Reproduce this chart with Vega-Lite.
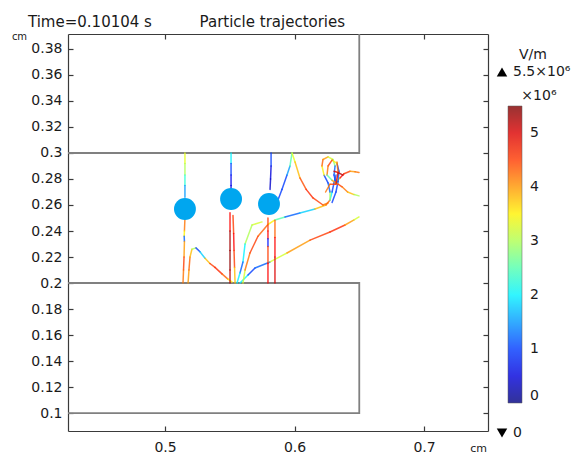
{
  "$schema": "https://vega.github.io/schema/vega-lite/v6.json",
  "width": 420,
  "height": 397,
  "autosize": "none",
  "padding": {"left": 68, "top": 34, "right": 96, "bottom": 23},
  "config": {
    "font": "DejaVu Sans",
    "view": {"stroke": null},
    "axis": {"grid": false, "domainColor": "#3a3a3a", "domainWidth": 1.2, "tickColor": "#3a3a3a", "tickWidth": 1.2, "labelColor": "#1a1a1a", "labelFontSize": 14, "titleColor": "#1a1a1a", "titleFontWeight": "normal"},
    "legend": {"labelColor": "#1a1a1a", "titleColor": "#1a1a1a", "titleFontWeight": "normal"}
  },
  "title": {
    "text": "Time=0.10104 s\u00a0\u00a0\u00a0\u00a0\u00a0\u00a0\u00a0\u00a0\u00a0\u00a0Particle trajectories",
    "anchor": "start",
    "frame": "group",
    "fontSize": 15,
    "fontWeight": "normal",
    "color": "#1a1a1a",
    "baseline": "alphabetic",
    "dx": -40,
    "dy": 20,
    "offset": 9
  },
  "layer": [
    {
      "data": {"values": [
        {"part": "upper", "ord": 0, "x": 0.40, "y": 0.30},
        {"part": "upper", "ord": 1, "x": 0.65, "y": 0.30},
        {"part": "upper", "ord": 2, "x": 0.65, "y": 0.40},
        {"part": "lower", "ord": 0, "x": 0.40, "y": 0.20},
        {"part": "lower", "ord": 1, "x": 0.65, "y": 0.20},
        {"part": "lower", "ord": 2, "x": 0.65, "y": 0.10},
        {"part": "lower", "ord": 3, "x": 0.40, "y": 0.10}
      ]},
      "mark": {"type": "line", "color": "#808080", "strokeWidth": 1.8, "clip": true},
      "encoding": {
        "x": {"field": "x", "type": "quantitative", "scale": {"domain": [0.4251, 0.7494], "nice": false, "zero": false},
              "axis": {"orient": "bottom", "values": [0.5, 0.6, 0.7], "format": "~g", "tickSize": -5, "labelPadding": 14, "title": "cm", "titleFontSize": 11, "titleX": 410, "titleY": 17, "titleAlign": "center", "titleBaseline": "middle"}},
        "y": {"field": "y", "type": "quantitative", "scale": {"domain": [0.0862, 0.3915], "nice": false, "zero": false},
              "axis": {"orient": "left", "values": [0.1, 0.12, 0.14, 0.16, 0.18, 0.2, 0.22, 0.24, 0.26, 0.28, 0.3, 0.32, 0.34, 0.36, 0.38], "format": "~g", "tickSize": -5, "labelPadding": 11, "title": "cm", "titleFontSize": 10, "titleAngle": 0, "titleX": -49, "titleY": 2, "titleAlign": "center", "titleBaseline": "middle"}},
        "detail": {"field": "part"},
        "order": {"field": "ord"}
      }
    },
    {
      "data": {"values": [
        {"traj": "t1", "i": 0, "x": 0.5154, "y": 0.300, "E": 3.3},
        {"traj": "t1", "i": 1, "x": 0.5154, "y": 0.292, "E": 3.0},
        {"traj": "t1", "i": 2, "x": 0.5154, "y": 0.283, "E": 2.3},
        {"traj": "t1", "i": 3, "x": 0.5154, "y": 0.275, "E": 1.5},
        {"traj": "t1", "i": 4, "x": 0.5154, "y": 0.266, "E": 1.0},
        {"traj": "t2", "i": 0, "x": 0.5154, "y": 0.250, "E": 4.2},
        {"traj": "t2", "i": 1, "x": 0.5150, "y": 0.240, "E": 3.5},
        {"traj": "t2", "i": 2, "x": 0.5148, "y": 0.236, "E": 1.2},
        {"traj": "t2", "i": 3, "x": 0.5150, "y": 0.232, "E": 4.0},
        {"traj": "t2", "i": 4, "x": 0.5147, "y": 0.220, "E": 4.5},
        {"traj": "t2", "i": 5, "x": 0.5143, "y": 0.210, "E": 4.2},
        {"traj": "t2", "i": 6, "x": 0.5139, "y": 0.200, "E": 3.6},
        {"traj": "t3", "i": 0, "x": 0.5178, "y": 0.200, "E": 4.0},
        {"traj": "t3", "i": 1, "x": 0.5185, "y": 0.210, "E": 4.3},
        {"traj": "t3", "i": 2, "x": 0.5193, "y": 0.220, "E": 3.8},
        {"traj": "t3", "i": 3, "x": 0.5208, "y": 0.226, "E": 3.0},
        {"traj": "t3", "i": 4, "x": 0.5239, "y": 0.227, "E": 1.0},
        {"traj": "t3", "i": 5, "x": 0.5270, "y": 0.224, "E": 1.8},
        {"traj": "t3", "i": 6, "x": 0.5309, "y": 0.219, "E": 3.8},
        {"traj": "t3", "i": 7, "x": 0.5347, "y": 0.215, "E": 4.5},
        {"traj": "t3", "i": 8, "x": 0.5386, "y": 0.212, "E": 4.6},
        {"traj": "t3", "i": 9, "x": 0.5440, "y": 0.207, "E": 4.3},
        {"traj": "t3", "i": 10, "x": 0.5486, "y": 0.203, "E": 3.5},
        {"traj": "t3", "i": 11, "x": 0.5517, "y": 0.2008, "E": 3.0},
        {"traj": "t4", "i": 0, "x": 0.5510, "y": 0.300, "E": 2.0},
        {"traj": "t4", "i": 1, "x": 0.5510, "y": 0.292, "E": 1.0},
        {"traj": "t4", "i": 2, "x": 0.5510, "y": 0.283, "E": 0.6},
        {"traj": "t4", "i": 3, "x": 0.5510, "y": 0.275, "E": 0.5},
        {"traj": "t4", "i": 4, "x": 0.5510, "y": 0.268, "E": 0.6},
        {"traj": "t5", "i": 0, "x": 0.5502, "y": 0.254, "E": 4.8},
        {"traj": "t5", "i": 1, "x": 0.5502, "y": 0.240, "E": 5.3},
        {"traj": "t5", "i": 2, "x": 0.5502, "y": 0.225, "E": 5.4},
        {"traj": "t5", "i": 3, "x": 0.5502, "y": 0.210, "E": 5.2},
        {"traj": "t5", "i": 4, "x": 0.5502, "y": 0.200, "E": 5.0},
        {"traj": "t5b", "i": 0, "x": 0.5525, "y": 0.252, "E": 4.5},
        {"traj": "t5b", "i": 1, "x": 0.5530, "y": 0.238, "E": 4.8},
        {"traj": "t5b", "i": 2, "x": 0.5533, "y": 0.225, "E": 4.5},
        {"traj": "t5b", "i": 3, "x": 0.5537, "y": 0.212, "E": 3.8},
        {"traj": "t5b", "i": 4, "x": 0.5541, "y": 0.200, "E": 3.2},
        {"traj": "t6", "i": 0, "x": 0.5749, "y": 0.2470, "E": 3.2},
        {"traj": "t6", "i": 1, "x": 0.5672, "y": 0.2446, "E": 3.0},
        {"traj": "t6", "i": 2, "x": 0.5618, "y": 0.2300, "E": 2.0},
        {"traj": "t6", "i": 3, "x": 0.5602, "y": 0.2162, "E": 1.2},
        {"traj": "t6", "i": 4, "x": 0.5579, "y": 0.2077, "E": 2.0},
        {"traj": "t6", "i": 5, "x": 0.5556, "y": 0.2000, "E": 3.0},
        {"traj": "t7", "i": 0, "x": 0.5579, "y": 0.2000, "E": 2.0},
        {"traj": "t7", "i": 1, "x": 0.5641, "y": 0.2062, "E": 1.0},
        {"traj": "t7", "i": 2, "x": 0.5695, "y": 0.2115, "E": 1.2},
        {"traj": "t7", "i": 3, "x": 0.5811, "y": 0.2162, "E": 3.2},
        {"traj": "t7", "i": 4, "x": 0.5942, "y": 0.2231, "E": 4.0},
        {"traj": "t7", "i": 5, "x": 0.6120, "y": 0.2330, "E": 4.5},
        {"traj": "t7", "i": 6, "x": 0.6274, "y": 0.2392, "E": 4.6},
        {"traj": "t7", "i": 7, "x": 0.6390, "y": 0.2446, "E": 4.0},
        {"traj": "t7", "i": 8, "x": 0.6460, "y": 0.2485, "E": 3.2},
        {"traj": "t7", "i": 9, "x": 0.6498, "y": 0.2508, "E": 2.0},
        {"traj": "t8", "i": 0, "x": 0.5602, "y": 0.2000, "E": 3.2},
        {"traj": "t8", "i": 1, "x": 0.5618, "y": 0.2100, "E": 4.2},
        {"traj": "t8", "i": 2, "x": 0.5656, "y": 0.2231, "E": 4.5},
        {"traj": "t8", "i": 3, "x": 0.5718, "y": 0.2360, "E": 4.3},
        {"traj": "t8", "i": 4, "x": 0.5795, "y": 0.2450, "E": 3.5},
        {"traj": "t8", "i": 5, "x": 0.5849, "y": 0.2485, "E": 2.5},
        {"traj": "t8", "i": 6, "x": 0.5927, "y": 0.2508, "E": 1.2},
        {"traj": "t8", "i": 7, "x": 0.6042, "y": 0.2538, "E": 1.8},
        {"traj": "t8", "i": 8, "x": 0.6158, "y": 0.2569, "E": 3.8},
        {"traj": "t8", "i": 9, "x": 0.6243, "y": 0.2600, "E": 4.3},
        {"traj": "t8", "i": 10, "x": 0.6274, "y": 0.2638, "E": 2.0},
        {"traj": "t8", "i": 11, "x": 0.6290, "y": 0.2700, "E": 1.0},
        {"traj": "t8", "i": 12, "x": 0.6305, "y": 0.2770, "E": 1.2},
        {"traj": "t8", "i": 13, "x": 0.6320, "y": 0.2830, "E": 1.5},
        {"traj": "t9", "i": 0, "x": 0.5819, "y": 0.300, "E": 1.0},
        {"traj": "t9", "i": 1, "x": 0.5819, "y": 0.290, "E": 0.5},
        {"traj": "t9", "i": 2, "x": 0.5815, "y": 0.280, "E": 0.4},
        {"traj": "t9", "i": 3, "x": 0.5811, "y": 0.272, "E": 0.8},
        {"traj": "t10", "i": 0, "x": 0.5795, "y": 0.250, "E": 4.5},
        {"traj": "t10", "i": 1, "x": 0.5795, "y": 0.240, "E": 4.8},
        {"traj": "t10", "i": 2, "x": 0.5795, "y": 0.234, "E": 0.8},
        {"traj": "t10", "i": 3, "x": 0.5795, "y": 0.228, "E": 4.5},
        {"traj": "t10", "i": 4, "x": 0.5795, "y": 0.215, "E": 4.8},
        {"traj": "t10", "i": 5, "x": 0.5795, "y": 0.200, "E": 4.5},
        {"traj": "t10b", "i": 0, "x": 0.5849, "y": 0.248, "E": 4.3},
        {"traj": "t10b", "i": 1, "x": 0.5849, "y": 0.235, "E": 4.8},
        {"traj": "t10b", "i": 2, "x": 0.5849, "y": 0.220, "E": 5.0},
        {"traj": "t10b", "i": 3, "x": 0.5849, "y": 0.200, "E": 4.9},
        {"traj": "t11", "i": 0, "x": 0.5865, "y": 0.2620, "E": 1.0},
        {"traj": "t11", "i": 1, "x": 0.5903, "y": 0.2720, "E": 1.0},
        {"traj": "t11", "i": 2, "x": 0.5942, "y": 0.2830, "E": 1.5},
        {"traj": "t11", "i": 3, "x": 0.5965, "y": 0.2900, "E": 2.5},
        {"traj": "t11", "i": 4, "x": 0.5981, "y": 0.3000, "E": 3.3},
        {"traj": "t11", "i": 5, "x": 0.6004, "y": 0.2930, "E": 3.8},
        {"traj": "t11", "i": 6, "x": 0.6042, "y": 0.2808, "E": 4.4},
        {"traj": "t11", "i": 7, "x": 0.6090, "y": 0.2720, "E": 4.6},
        {"traj": "t11", "i": 8, "x": 0.6143, "y": 0.2654, "E": 4.5},
        {"traj": "t11", "i": 9, "x": 0.6220, "y": 0.2600, "E": 4.2},
        {"traj": "t11", "i": 10, "x": 0.6259, "y": 0.2615, "E": 3.5},
        {"traj": "t12", "i": 0, "x": 0.6274, "y": 0.2640, "E": 3.0},
        {"traj": "t12", "i": 1, "x": 0.6274, "y": 0.2700, "E": 1.2},
        {"traj": "t12", "i": 2, "x": 0.6259, "y": 0.2770, "E": 1.0},
        {"traj": "t12", "i": 3, "x": 0.6228, "y": 0.2830, "E": 3.5},
        {"traj": "t12", "i": 4, "x": 0.6212, "y": 0.2900, "E": 4.3},
        {"traj": "t12", "i": 5, "x": 0.6220, "y": 0.2950, "E": 4.0},
        {"traj": "t12", "i": 6, "x": 0.6259, "y": 0.2970, "E": 3.2},
        {"traj": "t12", "i": 7, "x": 0.6297, "y": 0.2950, "E": 2.8},
        {"traj": "t12", "i": 8, "x": 0.6313, "y": 0.2900, "E": 1.2},
        {"traj": "t12", "i": 9, "x": 0.6305, "y": 0.2830, "E": 1.0},
        {"traj": "t12", "i": 10, "x": 0.6320, "y": 0.2770, "E": 3.5},
        {"traj": "t12", "i": 11, "x": 0.6351, "y": 0.2808, "E": 4.8},
        {"traj": "t12", "i": 12, "x": 0.6382, "y": 0.2840, "E": 4.5},
        {"traj": "t12", "i": 13, "x": 0.6429, "y": 0.2860, "E": 4.0},
        {"traj": "t12", "i": 14, "x": 0.6467, "y": 0.2855, "E": 4.2},
        {"traj": "t12", "i": 15, "x": 0.6498, "y": 0.2850, "E": 3.8},
        {"traj": "t13", "i": 0, "x": 0.6290, "y": 0.2620, "E": 1.0},
        {"traj": "t13", "i": 1, "x": 0.6320, "y": 0.2700, "E": 1.0},
        {"traj": "t13", "i": 2, "x": 0.6336, "y": 0.2780, "E": 1.2},
        {"traj": "t13", "i": 3, "x": 0.6343, "y": 0.2860, "E": 1.0},
        {"traj": "t13", "i": 4, "x": 0.6328, "y": 0.2920, "E": 3.5},
        {"traj": "t13", "i": 5, "x": 0.6290, "y": 0.2945, "E": 4.5},
        {"traj": "t13", "i": 6, "x": 0.6259, "y": 0.2900, "E": 4.2},
        {"traj": "t13", "i": 7, "x": 0.6251, "y": 0.2830, "E": 2.5},
        {"traj": "t13", "i": 8, "x": 0.6290, "y": 0.2790, "E": 4.0},
        {"traj": "t13", "i": 9, "x": 0.6336, "y": 0.2760, "E": 4.5},
        {"traj": "t13", "i": 10, "x": 0.6367, "y": 0.2740, "E": 4.2},
        {"traj": "t13", "i": 11, "x": 0.6410, "y": 0.2700, "E": 3.8},
        {"traj": "t13", "i": 12, "x": 0.6460, "y": 0.2680, "E": 3.0},
        {"traj": "t13", "i": 13, "x": 0.6498, "y": 0.2670, "E": 2.0},
        {"traj": "t14", "i": 0, "x": 0.6305, "y": 0.2860, "E": 5.0},
        {"traj": "t14", "i": 1, "x": 0.6336, "y": 0.2850, "E": 5.2},
        {"traj": "t14", "i": 2, "x": 0.6374, "y": 0.2830, "E": 4.6},
        {"traj": "t15", "i": 0, "x": 0.6328, "y": 0.2930, "E": 4.2},
        {"traj": "t15", "i": 1, "x": 0.6336, "y": 0.2850, "E": 5.0},
        {"traj": "t15", "i": 2, "x": 0.6320, "y": 0.2760, "E": 4.5},
        {"traj": "t15", "i": 3, "x": 0.6274, "y": 0.2760, "E": 4.2},
        {"traj": "t15", "i": 4, "x": 0.6240, "y": 0.2700, "E": 3.8}
      ]},
      "transform": [
        {"window": [{"op": "lead", "field": "x", "as": "xe"}, {"op": "lead", "field": "y", "as": "ye"}], "groupby": ["traj"], "sort": [{"field": "i"}]},
        {"filter": "datum.xe != null"}
      ],
      "mark": {"type": "rule", "strokeWidth": 1.5, "strokeCap": "round", "opacity": 0.8},
      "encoding": {
        "x": {"field": "x", "type": "quantitative", "axis": {"orient": "top", "values": [0.5, 0.6, 0.7], "labels": false, "tickSize": -5, "title": null}},
        "y": {"field": "y", "type": "quantitative", "axis": {"orient": "right", "values": [0.1, 0.12, 0.14, 0.16, 0.18, 0.2, 0.22, 0.24, 0.26, 0.28, 0.3, 0.32, 0.34, 0.36, 0.38], "labels": false, "tickSize": -5, "title": null}},
        "x2": {"field": "xe"},
        "y2": {"field": "ye"},
        "color": {
          "field": "E", "type": "quantitative",
          "scale": {"domain": [0, 0.6875, 2.0625, 3.4375, 4.8125, 5.5], "range": ["#00007f", "#0000ff", "#00ffff", "#ffff00", "#ff0000", "#7f0000"], "interpolate": "rgb"},
          "legend": {
            "orient": "none", "legendX": 440, "legendY": 55,
            "title": "\u200b\u00a0\u00a0\u00a0×10⁶", "titleFontSize": 14, "titlePadding": 3,
            "gradientLength": 297, "gradientThickness": 14, "gradientStrokeColor": "#333", "gradientStrokeWidth": 0.5,
            "values": [0, 1, 2, 3, 4, 5], "labelFontSize": 14, "labelOffset": 8, "direction": "vertical"
          }
        }
      }
    },
    {
      "data": {"values": [
        {"x": 0.5154, "y": 0.2569},
        {"x": 0.5510, "y": 0.2646},
        {"x": 0.5803, "y": 0.2608}
      ]},
      "mark": {"type": "point", "filled": true, "color": "#00a6ef", "size": 480, "opacity": 1},
      "encoding": {
        "x": {"field": "x", "type": "quantitative", "axis": null},
        "y": {"field": "y", "type": "quantitative", "axis": null}
      }
    },
    {
      "data": {"values": [{"maxv": "5.5×10⁶"}]},
      "mark": {"type": "point", "filled": true, "color": "#000000", "opacity": 0},
      "encoding": {
        "shape": {"field": "maxv", "type": "nominal", "scale": {"range": ["triangle-up"]},
          "legend": {"orient": "none", "legendX": 427, "legendY": 14, "title": "V/m", "titleFontSize": 14, "titleAnchor": "middle", "titlePadding": 3,
                     "symbolFillColor": "#000", "symbolStrokeColor": "#000", "symbolOpacity": 1, "symbolSize": 110, "labelFontSize": 14}}
      }
    },
    {
      "data": {"values": [{"minv": "0"}]},
      "mark": {"type": "point", "filled": true, "color": "#000000", "opacity": 0},
      "encoding": {
        "shape": {"field": "minv", "type": "nominal", "scale": {"range": ["triangle-down"]},
          "legend": {"orient": "none", "legendX": 427, "legendY": 392, "title": null,
                     "symbolFillColor": "#000", "symbolStrokeColor": "#000", "symbolOpacity": 1, "symbolSize": 110, "labelFontSize": 14}}
      }
    }
  ],
  "resolve": {
    "axis": {"x": "independent", "y": "independent"},
    "scale": {"shape": "independent"},
    "legend": {"shape": "independent"}
  }
}
